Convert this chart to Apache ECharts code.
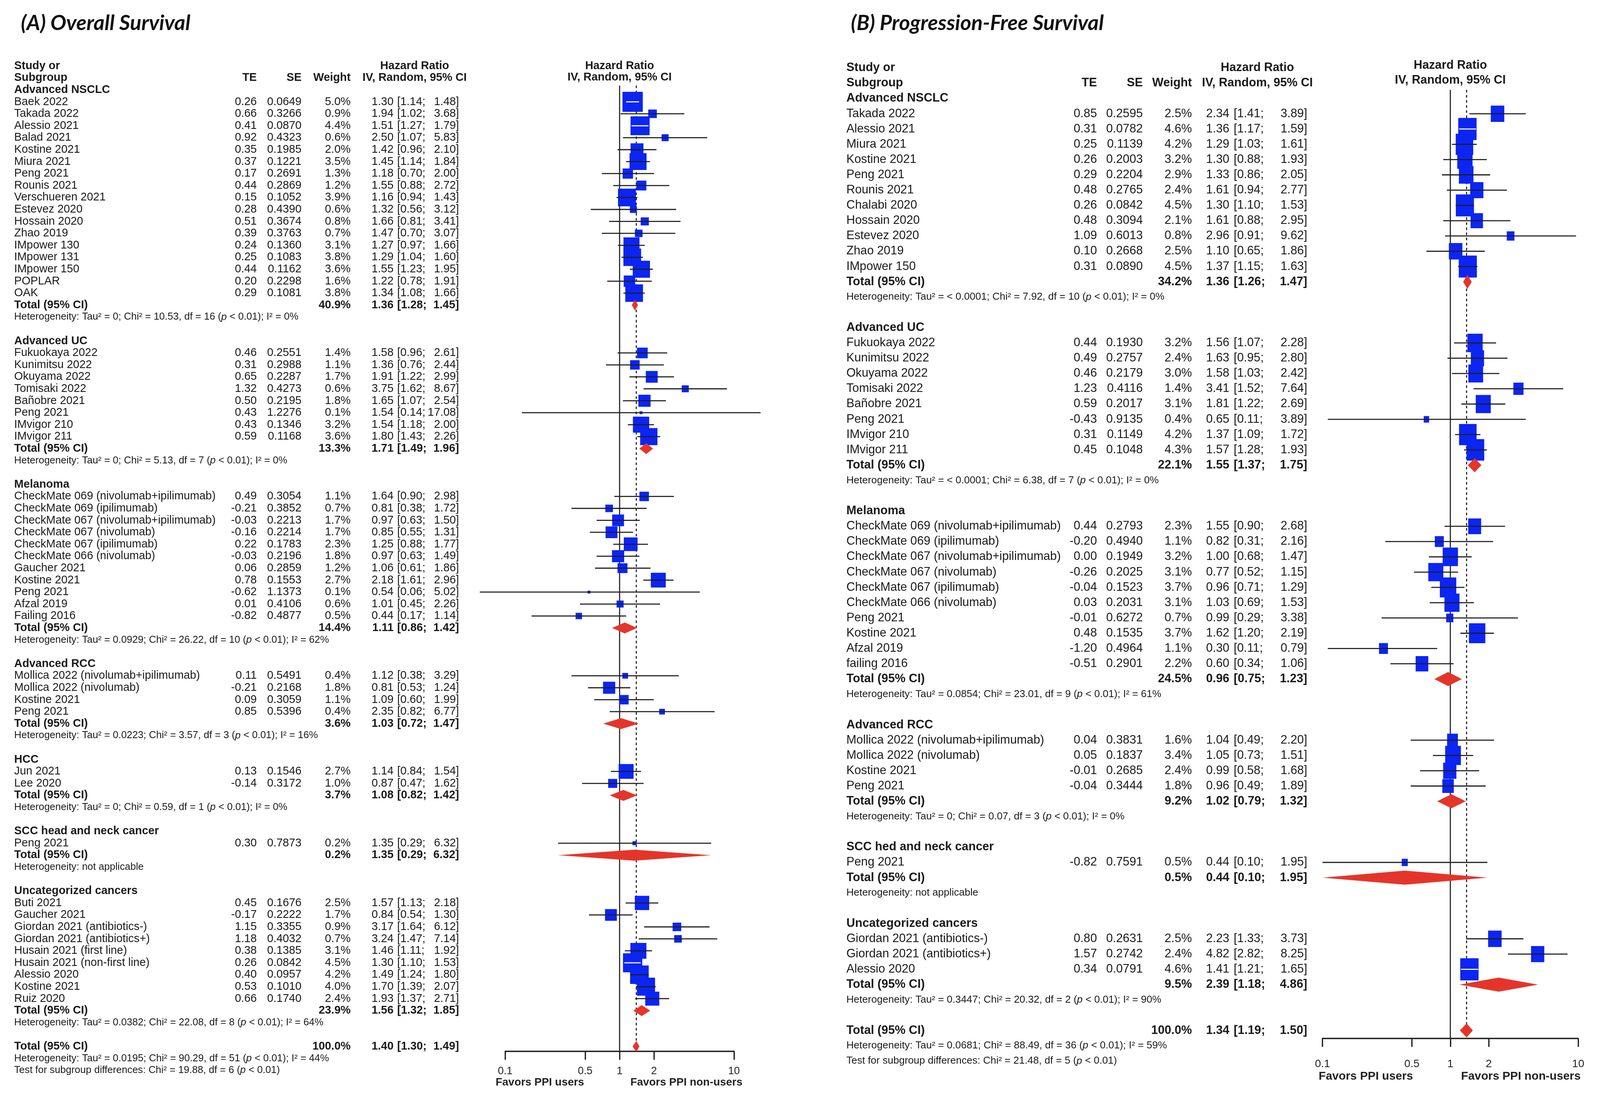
<!DOCTYPE html>
<html><head><meta charset="utf-8">
<script src="https://cdn.jsdelivr.net/npm/echarts@6/dist/echarts.min.js"></script>
<style>html,body{margin:0;padding:0;background:#fff;overflow:hidden}#c{width:100vw;height:100vh}</style>
</head><body><div id="c"></div>
<script>
// ================= DATA (A) Overall Survival =================
const osGroupNames = ['Advanced NSCLC','Advanced UC','Melanoma','Advanced RCC','HCC','SCC head and neck cancer','Uncategorized cancers'];
const osGroupSizes = [17,8,11,4,2,1,9];
const osStudies = ['Baek 2022','Takada 2022','Alessio 2021','Balad 2021','Kostine 2021','Miura 2021','Peng 2021','Rounis 2021','Verschueren 2021','Estevez 2020','Hossain 2020','Zhao 2019','IMpower 130','IMpower 131','IMpower 150','POPLAR','OAK',
 'Fukuokaya 2022','Kunimitsu 2022','Okuyama 2022','Tomisaki 2022','Bañobre 2021','Peng 2021','IMvigor 210','IMvigor 211',
 'CheckMate 069 (nivolumab+ipilimumab)','CheckMate 069 (ipilimumab)','CheckMate 067 (nivolumab+ipilimumab)','CheckMate 067 (nivolumab)','CheckMate 067 (ipilimumab)','CheckMate 066 (nivolumab)','Gaucher 2021','Kostine 2021','Peng 2021','Afzal 2019','Failing 2016',
 'Mollica 2022 (nivolumab+ipilimumab)','Mollica 2022 (nivolumab)','Kostine 2021','Peng 2021',
 'Jun 2021','Lee 2020',
 'Peng 2021',
 'Buti 2021','Gaucher 2021','Giordan 2021 (antibiotics-)','Giordan 2021 (antibiotics+)','Husain 2021 (first line)','Husain 2021 (non-first line)','Alessio 2020','Kostine 2021','Ruiz 2020'];
const osTE = [0.26,0.66,0.41,0.92,0.35,0.37,0.17,0.44,0.15,0.28,0.51,0.39,0.24,0.25,0.44,0.20,0.29,
 0.46,0.31,0.65,1.32,0.50,0.43,0.43,0.59,
 0.49,-0.21,-0.03,-0.16,0.22,-0.03,0.06,0.78,-0.62,0.01,-0.82,
 0.11,-0.21,0.09,0.85,
 0.13,-0.14,
 0.30,
 0.45,-0.17,1.15,1.18,0.38,0.26,0.40,0.53,0.66];
const osSE = [0.0649,0.3266,0.0870,0.4323,0.1985,0.1221,0.2691,0.2869,0.1052,0.4390,0.3674,0.3763,0.1360,0.1083,0.1162,0.2298,0.1081,
 0.2551,0.2988,0.2287,0.4273,0.2195,1.2276,0.1346,0.1168,
 0.3054,0.3852,0.2213,0.2214,0.1783,0.2196,0.2859,0.1553,1.1373,0.4106,0.4877,
 0.5491,0.2168,0.3059,0.5396,
 0.1546,0.3172,
 0.7873,
 0.1676,0.2222,0.3355,0.4032,0.1385,0.0842,0.0957,0.1010,0.1740];
const osWeight = [5.0,0.9,4.4,0.6,2.0,3.5,1.3,1.2,3.9,0.6,0.8,0.7,3.1,3.8,3.6,1.6,3.8,
 1.4,1.1,1.7,0.6,1.8,0.1,3.2,3.6,
 1.1,0.7,1.7,1.7,2.3,1.8,1.2,2.7,0.1,0.6,0.5,
 0.4,1.8,1.1,0.4,
 2.7,1.0,
 0.2,
 2.5,1.7,0.9,0.7,3.1,4.5,4.2,4.0,2.4];
const osHR = [1.30,1.94,1.51,2.50,1.42,1.45,1.18,1.55,1.16,1.32,1.66,1.47,1.27,1.29,1.55,1.22,1.34,
 1.58,1.36,1.91,3.75,1.65,1.54,1.54,1.80,
 1.64,0.81,0.97,0.85,1.25,0.97,1.06,2.18,0.54,1.01,0.44,
 1.12,0.81,1.09,2.35,
 1.14,0.87,
 1.35,
 1.57,0.84,3.17,3.24,1.46,1.30,1.49,1.70,1.93];
const osLower = [1.14,1.02,1.27,1.07,0.96,1.14,0.70,0.88,0.94,0.56,0.81,0.70,0.97,1.04,1.23,0.78,1.08,
 0.96,0.76,1.22,1.62,1.07,0.14,1.18,1.43,
 0.90,0.38,0.63,0.55,0.88,0.63,0.61,1.61,0.06,0.45,0.17,
 0.38,0.53,0.60,0.82,
 0.84,0.47,
 0.29,
 1.13,0.54,1.64,1.47,1.11,1.10,1.24,1.39,1.37];
const osUpper = [1.48,3.68,1.79,5.83,2.10,1.84,2.00,2.72,1.43,3.12,3.41,3.07,1.66,1.60,1.95,1.91,1.66,
 2.61,2.44,2.99,8.67,2.54,17.08,2.00,2.26,
 2.98,1.72,1.50,1.31,1.77,1.49,1.86,2.96,5.02,2.26,1.14,
 3.29,1.24,1.99,6.77,
 1.54,1.62,
 6.32,
 2.18,1.30,6.12,7.14,1.92,1.53,1.80,2.07,2.71];
const osGroupWeight = [40.9,13.3,14.4,3.6,3.7,0.2,23.9];
const osGroupHR = [1.36,1.71,1.11,1.03,1.08,1.35,1.56];
const osGroupLower = [1.28,1.49,0.86,0.72,0.82,0.29,1.32];
const osGroupUpper = [1.45,1.96,1.42,1.47,1.42,6.32,1.85];
const osGroupHet = [
 'Heterogeneity: Tau² = 0; Chi² = 10.53, df = 16 (*p* < 0.01); I² = 0%',
 'Heterogeneity: Tau² = 0; Chi² = 5.13, df = 7 (*p* < 0.01); I² = 0%',
 'Heterogeneity: Tau² = 0.0929; Chi² = 26.22, df = 10 (*p* < 0.01); I² = 62%',
 'Heterogeneity: Tau² = 0.0223; Chi² = 3.57, df = 3 (*p* < 0.01); I² = 16%',
 'Heterogeneity: Tau² = 0; Chi² = 0.59, df = 1 (*p* < 0.01); I² = 0%',
 'Heterogeneity: not applicable',
 'Heterogeneity: Tau² = 0.0382; Chi² = 22.08, df = 8 (*p* < 0.01); I² = 64%'];
const osOverall = [100.0, 1.40, 1.30, 1.49];
const osOverallHet = 'Heterogeneity: Tau² = 0.0195; Chi² = 90.29, df = 51 (*p* < 0.01); I² = 44%';
const osSubgroupTest = 'Test for subgroup differences: Chi² = 19.88, df = 6 (*p* < 0.01)';

// ================= DATA (B) Progression-Free Survival =================
const pfsGroupNames = ['Advanced NSCLC','Advanced UC','Melanoma','Advanced RCC','SCC hed and neck cancer','Uncategorized cancers'];
const pfsGroupSizes = [11,8,10,4,1,3];
const pfsStudies = ['Takada 2022','Alessio 2021','Miura 2021','Kostine 2021','Peng 2021','Rounis 2021','Chalabi 2020','Hossain 2020','Estevez 2020','Zhao 2019','IMpower 150',
 'Fukuokaya 2022','Kunimitsu 2022','Okuyama 2022','Tomisaki 2022','Bañobre 2021','Peng 2021','IMvigor 210','IMvigor 211',
 'CheckMate 069 (nivolumab+ipilimumab)','CheckMate 069 (ipilimumab)','CheckMate 067 (nivolumab+ipilimumab)','CheckMate 067 (nivolumab)','CheckMate 067 (ipilimumab)','CheckMate 066 (nivolumab)','Peng 2021','Kostine 2021','Afzal 2019','failing 2016',
 'Mollica 2022 (nivolumab+ipilimumab)','Mollica 2022 (nivolumab)','Kostine 2021','Peng 2021',
 'Peng 2021',
 'Giordan 2021 (antibiotics-)','Giordan 2021 (antibiotics+)','Alessio 2020'];
const pfsTE = [0.85,0.31,0.25,0.26,0.29,0.48,0.26,0.48,1.09,0.10,0.31,
 0.44,0.49,0.46,1.23,0.59,-0.43,0.31,0.45,
 0.44,-0.20,0.00,-0.26,-0.04,0.03,-0.01,0.48,-1.20,-0.51,
 0.04,0.05,-0.01,-0.04,
 -0.82,
 0.80,1.57,0.34];
const pfsSE = [0.2595,0.0782,0.1139,0.2003,0.2204,0.2765,0.0842,0.3094,0.6013,0.2668,0.0890,
 0.1930,0.2757,0.2179,0.4116,0.2017,0.9135,0.1149,0.1048,
 0.2793,0.4940,0.1949,0.2025,0.1523,0.2031,0.6272,0.1535,0.4964,0.2901,
 0.3831,0.1837,0.2685,0.3444,
 0.7591,
 0.2631,0.2742,0.0791];
const pfsWeight = [2.5,4.6,4.2,3.2,2.9,2.4,4.5,2.1,0.8,2.5,4.5,
 3.2,2.4,3.0,1.4,3.1,0.4,4.2,4.3,
 2.3,1.1,3.2,3.1,3.7,3.1,0.7,3.7,1.1,2.2,
 1.6,3.4,2.4,1.8,
 0.5,
 2.5,2.4,4.6];
const pfsHR = [2.34,1.36,1.29,1.30,1.33,1.61,1.30,1.61,2.96,1.10,1.37,
 1.56,1.63,1.58,3.41,1.81,0.65,1.37,1.57,
 1.55,0.82,1.00,0.77,0.96,1.03,0.99,1.62,0.30,0.60,
 1.04,1.05,0.99,0.96,
 0.44,
 2.23,4.82,1.41];
const pfsLower = [1.41,1.17,1.03,0.88,0.86,0.94,1.10,0.88,0.91,0.65,1.15,
 1.07,0.95,1.03,1.52,1.22,0.11,1.09,1.28,
 0.90,0.31,0.68,0.52,0.71,0.69,0.29,1.20,0.11,0.34,
 0.49,0.73,0.58,0.49,
 0.10,
 1.33,2.82,1.21];
const pfsUpper = [3.89,1.59,1.61,1.93,2.05,2.77,1.53,2.95,9.62,1.86,1.63,
 2.28,2.80,2.42,7.64,2.69,3.89,1.72,1.93,
 2.68,2.16,1.47,1.15,1.29,1.53,3.38,2.19,0.79,1.06,
 2.20,1.51,1.68,1.89,
 1.95,
 3.73,8.25,1.65];
const pfsGroupWeight = [34.2,22.1,24.5,9.2,0.5,9.5];
const pfsGroupHR = [1.36,1.55,0.96,1.02,0.44,2.39];
const pfsGroupLower = [1.26,1.37,0.75,0.79,0.10,1.18];
const pfsGroupUpper = [1.47,1.75,1.23,1.32,1.95,4.86];
const pfsGroupHet = [
 'Heterogeneity: Tau² = < 0.0001; Chi² = 7.92, df = 10 (*p* < 0.01); I² = 0%',
 'Heterogeneity: Tau² = < 0.0001; Chi² = 6.38, df = 7 (*p* < 0.01); I² = 0%',
 'Heterogeneity: Tau² = 0.0854; Chi² = 23.01, df = 9 (*p* < 0.01); I² = 61%',
 'Heterogeneity: Tau² = 0; Chi² = 0.07, df = 3 (*p* < 0.01); I² = 0%',
 'Heterogeneity: not applicable',
 'Heterogeneity: Tau² = 0.3447; Chi² = 20.32, df = 2 (*p* < 0.01); I² = 90%'];
const pfsOverall = [100.0, 1.34, 1.19, 1.50];
const pfsOverallHet = 'Heterogeneity: Tau² = 0.0681; Chi² = 88.49, df = 36 (*p* < 0.01); I² = 59%';
const pfsSubgroupTest = 'Test for subgroup differences: Chi² = 21.48, df = 5 (*p* < 0.01)';

const axisTickValues = [0.1, 0.5, 1, 2, 10];
const titles = ['(A) Overall Survival', '(B) Progression-Free Survival'];

// ================= LAYOUT / STYLE (reference pixel units, scaled to the viewport) =================
const REF_W = 4399, REF_H = 2815;
const el = document.getElementById('c');
const VW = el.clientWidth || window.innerWidth || REF_W;
const VH = el.clientHeight || window.innerHeight || REF_H;
const sx = VW / REF_W, sy = VH / REF_H, sf = Math.min(sx, sy);
const X = v => v * sx, Y = v => v * sy, F = v => v * sf;

const FF = '"Liberation Sans", Arial, Helvetica, sans-serif';
const TXT = '#1a1a1a';
const BLUE = '#0c25f2';
const RED = '#e5352a';
const LINE = '#1e1e1e';

const layouts = [
 { y0: 230, rowH: 30.6, axisY: 2690, plotLeft: 1389, plotRight: 2018, fs: 31, hetFs: 27.5, tickFs: 29, favFs: 30, tickMargin: 38,
   col: {name: 39, te: 706, se: 829, w: 964, est: 1082, lo: 1092, hi: 1262, hrHead: 1140},
   lineTopRow: -0.36, sq: [25, 23], diaH: 28, plotHead: [-2, -1.05], favL: 1606, favR: 1733, titleX: 52, titleY: 28 },
 { y0: 252, rowH: 39.1, axisY: 2657, plotLeft: 3636, plotRight: 4339, fs: 33, hetFs: 28, tickFs: 30, favFs: 32, tickMargin: 52,
   col: {name: 2327, te: 3016, se: 3142, w: 3277, est: 3380, lo: 3392, hi: 3594, hrHead: 3457},
   lineTopRow: -0.56, sq: [23.5, 26.5], diaH: 36, plotHead: [-2.15, -1.2], favL: 3885, favR: 4017, titleX: 2334, titleY: 28 }
];

const sources = [
 {groupNames: osGroupNames, groupSizes: osGroupSizes, studies: osStudies, te: osTE, se: osSE, weight: osWeight, hr: osHR, lower: osLower, upper: osUpper,
  gW: osGroupWeight, gHR: osGroupHR, gLo: osGroupLower, gHi: osGroupUpper, gHet: osGroupHet, overall: osOverall, overallHet: osOverallHet, test: osSubgroupTest},
 {groupNames: pfsGroupNames, groupSizes: pfsGroupSizes, studies: pfsStudies, te: pfsTE, se: pfsSE, weight: pfsWeight, hr: pfsHR, lower: pfsLower, upper: pfsUpper,
  gW: pfsGroupWeight, gHR: pfsGroupHR, gLo: pfsGroupLower, gHi: pfsGroupUpper, gHet: pfsGroupHet, overall: pfsOverall, overallHet: pfsOverallHet, test: pfsSubgroupTest}
];

const lg = Math.log10;

function buildPanel(src) {
  const rows = [{r: -2, kind: 'head1'}, {r: -1, kind: 'head2'}];
  const studies = [], diamonds = [];
  let r = 0, k = 0;
  src.groupNames.forEach((g, gi) => {
    rows.push({r: r++, kind: 'group', text: g});
    for (let j = 0; j < src.groupSizes[gi]; j++, k++) {
      rows.push({r, kind: 'study', name: src.studies[k], te: src.te[k], se: src.se[k], w: src.weight[k], hr: src.hr[k], lo: src.lower[k], hi: src.upper[k]});
      studies.push([lg(src.lower[k]), lg(src.hr[k]), lg(src.upper[k]), r, src.weight[k]]);
      r++;
    }
    rows.push({r, kind: 'total', w: src.gW[gi], hr: src.gHR[gi], lo: src.gLo[gi], hi: src.gHi[gi]});
    diamonds.push([lg(src.gLo[gi]), lg(src.gHR[gi]), lg(src.gHi[gi]), r]);
    r++;
    rows.push({r: r++, kind: 'het', text: src.gHet[gi]});
    r++;
  });
  const overallRow = r;
  rows.push({r, kind: 'total', w: src.overall[0], hr: src.overall[1], lo: src.overall[2], hi: src.overall[3]});
  diamonds.push([lg(src.overall[2]), lg(src.overall[1]), lg(src.overall[3]), r]);
  rows.push({r: r + 1, kind: 'het', text: src.overallHet});
  rows.push({r: r + 2, kind: 'het', text: src.test});
  rows.push({r: r + 3, kind: 'favors'});
  return {rows, studies, diamonds, overallRow, overallHR: src.overall[1]};
}

function txt(x, y, text, fs, opt) {
  return {type: 'text', x: x, y: y, silent: true,
    style: Object.assign({text: text, fill: TXT, fontFamily: FF, fontSize: fs, fontWeight: 'normal', align: 'left', verticalAlign: 'middle'}, opt || {})};
}
function rich(x, y, str, fs) {
  const parts = str.split('*p*');
  const text = parts.map(s => '{n|' + s + '}').join('{i|p}');
  return {type: 'text', x: x, y: y, silent: true,
    style: {text: text, align: 'left', verticalAlign: 'middle',
      rich: {n: {fontSize: fs, fontFamily: FF, fill: TXT}, i: {fontSize: fs, fontFamily: FF, fontStyle: 'italic', fill: TXT}}}};
}

const panels = sources.map(buildPanel);
const series = [], grids = [], xAxes = [], yAxes = [];

panels.forEach((P, pi) => {
  const L = layouts[pi];
  const yMin = -2.5;
  const top = L.y0 + yMin * L.rowH;
  const height = L.axisY - top;
  const yMax = yMin + height / L.rowH;
  grids.push({left: X(L.plotLeft), width: X(L.plotRight - L.plotLeft), top: Y(top), height: Y(height), containLabel: false, outerBoundsMode: 'none'});
  const tickLog = axisTickValues.map(v => lg(v));
  xAxes.push({gridIndex: pi, type: 'value', min: -1, max: 1, position: 'bottom',
    axisLine: {show: true, onZero: false, lineStyle: {color: LINE, width: F(3.5)}},
    axisTick: {show: true, customValues: tickLog, length: Y(22), inside: false, lineStyle: {color: LINE, width: F(3.5)}},
    axisLabel: {show: true, customValues: tickLog, margin: Y(L.tickMargin), fontSize: F(L.tickFs), fontFamily: FF, color: '#222',
      formatter: v => { const h = Math.pow(10, v); return h >= 1 ? String(Math.round(h)) : String(+h.toFixed(1)); }},
    splitLine: {show: false}});
  yAxes.push({gridIndex: pi, type: 'value', min: yMin, max: yMax, inverse: true, show: false});

  // reference lines: HR = 1 (solid) and overall estimate (dashed)
  series.push({type: 'custom', xAxisIndex: pi, yAxisIndex: pi, z: 1, silent: true, clip: false,
    data: [[0, L.lineTopRow, yMax, 0], [lg(P.overallHR), L.lineTopRow, P.overallRow, 1]],
    renderItem: (params, api) => {
      const a = api.coord([api.value(0), api.value(1)]);
      const b = api.coord([api.value(0), api.value(2)]);
      const dashed = api.value(3) === 1;
      return {type: 'line', shape: {x1: a[0], y1: a[1], x2: b[0], y2: b[1]},
        style: {stroke: LINE, lineWidth: F(3), lineDash: dashed ? [F(7), F(7)] : null}};
    }});

  // study squares and CIs
  series.push({type: 'custom', xAxisIndex: pi, yAxisIndex: pi, z: 3, silent: true, clip: false,
    data: P.studies,
    renderItem: (params, api) => {
      const row = api.value(3), wt = api.value(4);
      const pl = api.coord([api.value(0), row]);
      const pe = api.coord([api.value(1), row]);
      const ph = api.coord([api.value(2), row]);
      const sw = X(L.sq[0] * Math.sqrt(wt)), sh = Y(L.sq[1] * Math.sqrt(wt));
      const inside = pl[0] >= pe[0] - sw / 2 && ph[0] <= pe[0] + sw / 2;
      return {type: 'group', children: [
        {type: 'rect', shape: {x: pe[0] - sw / 2, y: pe[1] - sh / 2, width: sw, height: sh}, style: {fill: BLUE}},
        {type: 'line', shape: {x1: pl[0], y1: pe[1], x2: ph[0], y2: pe[1]}, style: {stroke: inside ? '#ffffff' : LINE, lineWidth: F(3)}}
      ]};
    }});

  // diamonds
  series.push({type: 'custom', xAxisIndex: pi, yAxisIndex: pi, z: 4, silent: true, clip: false,
    data: P.diamonds,
    renderItem: (params, api) => {
      const row = api.value(3);
      const pl = api.coord([api.value(0), row]);
      const pe = api.coord([api.value(1), row]);
      const ph = api.coord([api.value(2), row]);
      const h = Y(L.diaH) / 2;
      return {type: 'polygon', shape: {points: [[pl[0], pe[1]], [pe[0], pe[1] - h], [ph[0], pe[1]], [pe[0], pe[1] + h]]},
        style: {fill: RED}};
    }});

  // table text
  series.push({type: 'custom', xAxisIndex: pi, yAxisIndex: pi, z: 5, silent: true, clip: false,
    data: P.rows.map(o => [0, o.r]),
    renderItem: (params, api) => {
      const o = P.rows[params.dataIndex];
      const y = api.coord([0, o.r])[1];
      const x1 = api.coord([0, o.r])[0];
      const C = L.col, fs = F(L.fs), ch = [];
      const B = {fontWeight: 'bold'};
      if (o.kind === 'head1') {
        ch.push(txt(X(C.name), y, 'Study or', fs, B));
        ch.push(txt(X(C.hrHead), y, 'Hazard Ratio', fs, {fontWeight: 'bold', align: 'center'}));
        const yp = api.coord([0, L.plotHead[0]])[1];
        ch.push(txt(x1, yp, 'Hazard Ratio', fs, {fontWeight: 'bold', align: 'center'}));
      } else if (o.kind === 'head2') {
        ch.push(txt(X(C.name), y, 'Subgroup', fs, B));
        ch.push(txt(X(C.te), y, 'TE', fs, {fontWeight: 'bold', align: 'right'}));
        ch.push(txt(X(C.se), y, 'SE', fs, {fontWeight: 'bold', align: 'right'}));
        ch.push(txt(X(C.w), y, 'Weight', fs, {fontWeight: 'bold', align: 'right'}));
        ch.push(txt(X(C.hrHead), y, 'IV, Random, 95% CI', fs, {fontWeight: 'bold', align: 'center'}));
        const yp = api.coord([0, L.plotHead[1]])[1];
        ch.push(txt(x1, yp, 'IV, Random, 95% CI', fs, {fontWeight: 'bold', align: 'center'}));
      } else if (o.kind === 'group') {
        ch.push(txt(X(C.name), y, o.text, fs, B));
      } else if (o.kind === 'study') {
        ch.push(txt(X(C.name), y, o.name, fs));
        ch.push(txt(X(C.te), y, o.te.toFixed(2), fs, {align: 'right'}));
        ch.push(txt(X(C.se), y, o.se.toFixed(4), fs, {align: 'right'}));
        ch.push(txt(X(C.w), y, o.w.toFixed(1) + '%', fs, {align: 'right'}));
        ch.push(txt(X(C.est), y, o.hr.toFixed(2), fs, {align: 'right'}));
        ch.push(txt(X(C.lo), y, '[' + o.lo.toFixed(2) + ';', fs));
        ch.push(txt(X(C.hi), y, o.hi.toFixed(2) + ']', fs, {align: 'right'}));
      } else if (o.kind === 'total') {
        ch.push(txt(X(C.name), y, 'Total (95% CI)', fs, B));
        ch.push(txt(X(C.w), y, o.w.toFixed(1) + '%', fs, {fontWeight: 'bold', align: 'right'}));
        ch.push(txt(X(C.est), y, o.hr.toFixed(2), fs, {fontWeight: 'bold', align: 'right'}));
        ch.push(txt(X(C.lo), y, '[' + o.lo.toFixed(2) + ';', fs, B));
        ch.push(txt(X(C.hi), y, o.hi.toFixed(2) + ']', fs, {fontWeight: 'bold', align: 'right'}));
      } else if (o.kind === 'het') {
        ch.push(rich(X(C.name), y, o.text, F(L.hetFs)));
      } else if (o.kind === 'favors') {
        ch.push(txt(X(L.favL), y, 'Favors PPI users', F(L.favFs), {fontWeight: 'bold', align: 'right', fill: '#222'}));
        ch.push(txt(X(L.favR), y, 'Favors PPI non-users', F(L.favFs), {fontWeight: 'bold', align: 'left', fill: '#222'}));
      }
      return {type: 'group', children: ch};
    }});
});

const chart = echarts.init(el, null, {renderer: 'canvas'});
chart.setOption({
  backgroundColor: '#ffffff',
  animation: false,
  title: titles.map((t, i) => ({text: t, left: X(layouts[i].titleX), top: Y(layouts[i].titleY),
    textStyle: {fontFamily: 'Lato', fontStyle: 'italic', fontWeight: 'bold', fontSize: F(58), color: '#111'}})),
  grid: grids, xAxis: xAxes, yAxis: yAxes, series: series
});
</script></body></html>
